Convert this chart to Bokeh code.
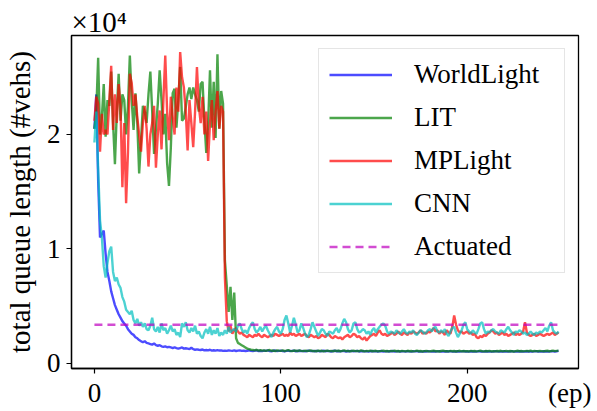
from bokeh.plotting import figure
from bokeh.models import Range1d, FixedTicker, Legend, LegendItem, LinearAxis, Title
from bokeh.embed import file_html
from bokeh.resources import INLINE

episodes = list(range(250))

worldlight = [
    20500, 23500, 16000, 11000, 11300, 11600, 9600, 8000, 7200, 6300,
    5700, 5100, 4700, 4300, 4000, 3700, 3500, 3300, 3000, 2800,
    2600, 2500, 2300, 2200, 2050, 1950, 1850, 1950, 1800, 1750,
    1700, 1650, 1750, 1600, 1550, 1600, 1500, 1450, 1500, 1420,
    1450, 1400, 1350, 1420, 1350, 1300, 1350, 1400, 1300, 1330,
    1300, 1250, 1380, 1250, 1200, 1230, 1200, 1180, 1220, 1150,
    1180, 1150, 1200, 1130, 1160, 1120, 1170, 1130, 1150, 1100,
    1130, 1100, 1150, 1120, 1100, 1140, 1090, 1120, 1150, 1100,
    1130, 1090, 1110, 1150, 1100, 1080, 1120, 1140, 1090, 1110,
    1080, 1120, 1100, 1140, 1090, 1070, 1110, 1130, 1080, 1100,
    1120, 1090, 1060, 1100, 1130, 1080, 1100, 1120, 1070, 1090,
    1110, 1080, 1100, 1060, 1090, 1120, 1080, 1100, 1070, 1090,
    1100, 1060, 1090, 1110, 1070, 1100, 1080, 1050, 1090, 1110,
    1070, 1090, 1060, 1100, 1080, 1050, 1090, 1070, 1100, 1060,
    1080, 1100, 1050, 1070, 1090, 1060, 1080, 1040, 1070, 1090,
    1060, 1080, 1050, 1070, 1090, 1040, 1060, 1080, 1050, 1070,
    1090, 1050, 1060, 1080, 1040, 1070, 1060, 1050, 1080, 1060,
    1040, 1070, 1060, 1080, 1050, 1060, 1040, 1070, 1050, 1080,
    1060, 1040, 1070, 1050, 1060, 1080, 1040, 1060, 1050, 1070,
    1050, 1080, 1040, 1060, 1050, 1070, 1040, 1060, 1080, 1050,
    1060, 1040, 1070, 1050, 1060, 1040, 1080, 1050, 1060, 1040,
    1070, 1050, 1060, 1040, 1050, 1070, 1060, 1040, 1060, 1050,
    1070, 1040, 1060, 1050, 1080, 1040, 1060, 1050, 1070, 1050,
    1060, 1040, 1070, 1050, 1060, 1040, 1060, 1080, 1050, 1060,
    1040, 1070, 1050, 1060, 1040, 1080, 1060, 1050, 1070, 1100,
]

lit = [
    20500, 22000, 26700, 20000, 21500, 24400, 19800, 23000, 22500, 25500,
    21000, 17400, 22000, 25300, 21200, 23500, 23000, 20000, 22500, 26900,
    23000, 20400, 23600, 21000, 16600, 19500, 22500, 22000, 21000, 23500,
    25500, 22000, 18300, 20500, 22700, 25600, 23000, 20000, 21800, 17500,
    15500, 18900, 23600, 24000, 20600, 23000, 25900, 21200, 21400, 22400,
    23500, 24100, 23100, 24100, 23500, 23000, 22000, 24400, 24600, 21200,
    18400, 20900, 25600, 20600, 24600, 19700, 27000, 20500, 23800, 22700,
    9000, 6800, 4500, 6700, 3800, 6200, 2200, 1800, 1700, 1600,
    1500, 1400, 1300, 1250, 1200, 1180, 1150, 1200, 1130, 1160,
    1120, 1150, 1100, 1140, 1180, 1110, 1130, 1090, 1150, 1120,
    1100, 1140, 1090, 1120, 1170, 1100, 1080, 1130, 1110, 1090,
    1150, 1100, 1080, 1120, 1090, 1110, 1140, 1080, 1100, 1070,
    1120, 1090, 1110, 1060, 1100, 1130, 1080, 1100, 1070, 1120,
    1090, 1110, 1070, 1100, 1140, 1080, 1100, 1060, 1090, 1120,
    1080, 1100, 1070, 1150, 1090, 1060, 1100, 1080, 1120, 1070,
    1090, 1110, 1060, 1080, 1100, 1130, 1070, 1090, 1060, 1100,
    1080, 1120, 1070, 1090, 1050, 1100, 1080, 1060, 1110, 1070,
    1090, 1060, 1080, 1120, 1070, 1090, 1050, 1080, 1100, 1070,
    1060, 1090, 1110, 1070, 1080, 1050, 1090, 1130, 1070, 1080,
    1060, 1100, 1070, 1090, 1050, 1080, 1110, 1060, 1090, 1070,
    1080, 1050, 1100, 1070, 1090, 1060, 1080, 1120, 1070, 1060,
    1090, 1070, 1100, 1050, 1080, 1060, 1090, 1070, 1110, 1060,
    1080, 1100, 1060, 1090, 1070, 1050, 1080, 1110, 1070, 1090,
    1060, 1080, 1100, 1070, 1120, 1060, 1090, 1080, 1070, 1100,
    1080, 1060, 1090, 1110, 1070, 1090, 1130, 1080, 1100, 1120,
]

mplight = [
    21200, 23300, 22700, 18500, 21800, 20000, 20400, 20000, 23000, 26000,
    20400, 23500, 21000, 24400, 22500, 15400, 21000, 14000, 18500, 25300,
    24500, 22500, 23500, 21500, 20000, 18500, 21000, 22500, 20500, 17200,
    20000, 21000, 22500, 17100, 20000, 22100, 18700, 23000, 26900, 22000,
    19500, 23300, 21500, 20000, 24100, 22000, 27200, 25000, 24100, 22000,
    18600, 23000, 21000, 18900, 22000, 25900, 22500, 21000, 23300, 20000,
    22000, 17700, 21000, 23000, 19500, 22000, 23800, 20500, 22500, 22000,
    7500, 3700, 2800, 3300, 2600, 2900, 3100, 2800, 2600, 2700,
    2500, 2400, 2300, 2500, 2400, 2300, 2500, 2400, 2600, 2400,
    2300, 2500, 2400, 2300, 2400, 2500, 2400, 2600, 2500, 2400,
    2500, 2600, 2400, 2500, 2400, 2700, 2500, 2600, 2400, 2500,
    2600, 2400, 2500, 2600, 2400, 2300, 2500, 2400, 2300, 2400,
    2200, 2300, 2500, 2400, 2300, 2600, 2500, 2300, 2200, 2400,
    2300, 2200, 2300, 2100, 2300, 2400, 2500, 2300, 2400, 2600,
    2500, 2300, 2400, 2200, 2100, 2300, 2000, 2200, 2400, 2500,
    2600, 2400, 2700, 2900, 2600, 2500, 2600, 2400, 2500, 2600,
    2700, 2500, 2600, 2800, 2600, 2500, 2700, 2600, 2500, 2700,
    2600, 2800, 2700, 2600, 2700, 2900, 2600, 2700, 2600, 2800,
    2700, 2900, 3100, 2800, 2900, 2600, 2800, 2700, 2500, 2900,
    2700, 2600, 3200, 4200, 3400, 2900, 2700, 2800, 2600, 2700,
    2800, 2600, 2700, 2500, 2600, 2300, 2200, 2400, 2300, 2500,
    2400, 2600, 2700, 2900, 2800, 2600, 2700, 2500, 2600, 2700,
    2500, 2600, 2400, 2500, 2600, 2700, 2500, 2600, 2500, 2600,
    2800, 3600, 2700, 2500, 2400, 2500, 2600, 2400, 2500, 2600,
    2500, 2400, 2500, 2600, 2500, 2600, 2700, 2500, 2600, 2700,
]

cnn = [
    19300, 22000, 17000, 12500, 11000, 8500, 7500, 8800, 9800, 10200,
    8000, 7200, 7500, 6900, 6600, 5800, 5400, 4700, 4500, 4300,
    4600, 3800, 3500, 3900, 3300, 3600, 3200, 3500, 3000, 2900,
    3300, 4000, 3000, 2800, 3200, 2700, 3500, 2900, 3100, 2600,
    2900, 3300, 2800, 3000, 2500, 2700, 2300, 3500, 3200, 3600,
    2900, 2700, 3100, 2800, 3300, 2600, 2800, 2400, 2200, 2700,
    3000, 2600, 3200, 2500, 2900, 2600, 3100, 2400, 2700, 2500,
    2900, 2600, 3200, 2700, 2900, 3000, 2800, 3300, 3500, 3000,
    2700, 2900, 2600, 3100, 3400, 3600, 3000, 2700, 2900, 3200,
    2800, 3100, 3300, 2900, 2600, 2300, 2700, 3000, 3200, 2800,
    2600, 3000, 3800, 4200, 3500, 2700, 3300, 4000, 3400, 2700,
    2900, 3500, 3100, 2600, 2300, 2500, 3000, 3600, 3200, 2800,
    2400, 2700, 3000, 2900, 2600, 2400, 2800, 2700, 2600, 2900,
    3100, 2700, 3000, 3500, 3900, 3600, 3000, 2700, 2900, 3500,
    3600, 3000, 2700, 2800, 3000, 2900, 2600, 2800, 2500, 2900,
    3100, 2700, 3000, 3200, 3400, 3500, 3300, 2800, 2600, 2800,
    2700, 2600, 2900, 2700, 2600, 2800, 3000, 2700, 2600, 2800,
    2700, 2900, 2600, 2500, 2700, 2900, 2800, 2600, 2700, 2900,
    3000, 2800, 3100, 3200, 2800, 2700, 2900, 2700, 3000, 2600,
    2400, 2800, 3100, 3200, 2700, 2300, 2600, 2900, 3400, 3600,
    3000, 2800, 2600, 2900, 2700, 2600, 3000, 3500, 3600, 3000,
    2600, 2800, 2700, 2900, 3000, 2800, 2700, 2600, 2900, 2800,
    2700, 3000, 3200, 2900, 2700, 2500, 2800, 2700, 2900, 2800,
    2600, 2700, 2500, 2600, 2800, 2600, 2500, 2700, 2600, 2800,
    2700, 2900, 3100, 2800, 3300, 3600, 2900, 2700, 2600, 2800,
]

actuated_eps = [0, 249]
actuated = [3380, 3380]

series_names = ["WorldLight", "LIT", "MPLight", "CNN", "Actuated"]
x_ticks = [0, 100, 200]
x_unit_pos = 255
x_unit_label = "(ep)"
y_ticks = [0, 10000, 20000]
y_tick_labels = {0: "0", 10000: "1", 20000: "2"}
y_multiplier = "×10⁴"

FONT = "Liberation Serif"
FS = "27px"

p = figure(width=597, height=411, output_backend="svg", toolbar_location=None,
           x_range=Range1d(-12.3, 259.7), y_range=Range1d(-437, 28646),
           x_axis_location=None,
           min_border_left=68, min_border_right=19, min_border_top=35,
           min_border_bottom=43)
p.title = Title(text=y_multiplier, align="left", offset=0, standoff=-5,
                text_font=FONT, text_font_size="29px",
                text_font_style="normal", text_color="black")
p.background_fill_color = "white"
p.border_fill_color = "white"
p.outline_line_color = "black"
p.outline_line_width = 1.3
p.xgrid.visible = False
p.ygrid.visible = False

# x axis: labels at the ticks plus the unit; marks drawn as minor ticks
ax = LinearAxis(ticker=FixedTicker(ticks=x_ticks + [x_unit_pos],
                                   minor_ticks=x_ticks))
ax.axis_line_color = "black"
ax.axis_line_width = 1.3
ax.major_tick_line_color = None
ax.major_tick_out = 5
ax.major_tick_in = 0
ax.minor_tick_line_color = "black"
ax.minor_tick_line_width = 1.2
ax.minor_tick_out = 5
ax.minor_tick_in = 0
ax.major_label_overrides = {x_unit_pos: x_unit_label}
ax.major_label_text_font = FONT
ax.major_label_text_font_size = FS
ax.major_label_text_color = "black"
ax.major_label_standoff = 4
p.add_layout(ax, "below")

ay = p.yaxis[0]
ay.axis_line_color = "black"
ay.axis_line_width = 1.3
ay.major_tick_line_color = "black"
ay.major_tick_line_width = 1.2
ay.major_tick_out = 5
ay.major_tick_in = 0
ay.minor_tick_line_color = None
ay.major_label_text_font = FONT
ay.major_label_text_font_size = FS
ay.major_label_text_color = "black"
ay.major_label_standoff = 6
ay.ticker = FixedTicker(ticks=y_ticks)
ay.major_label_overrides = y_tick_labels
ay.axis_label = "total queue length (#vehs)"
ay.axis_label_text_font = FONT
ay.axis_label_text_font_size = "29px"
ay.axis_label_text_font_style = "normal"
ay.axis_label_text_color = "black"
ay.axis_label_standoff = 8

r1 = p.line(episodes, worldlight, line_color="blue", line_alpha=0.7, line_width=2.4)
r2 = p.line(episodes, lit, line_color="green", line_alpha=0.7, line_width=2.4)
r3 = p.line(episodes, mplight, line_color="red", line_alpha=0.7, line_width=2.4)
r4 = p.line(episodes, cnn, line_color="#00bfbf", line_alpha=0.7, line_width=2.4)
r5 = p.line(actuated_eps, actuated, line_color="#bf00bf", line_alpha=0.7,
            line_width=2.4, line_dash="8 5")

legend = Legend(items=[LegendItem(label=n, renderers=[r])
                       for n, r in zip(series_names, [r1, r2, r3, r4, r5])],
                location=(247, 95))
legend.label_text_font = FONT
legend.label_text_font_size = FS
legend.label_text_color = "black"
legend.glyph_width = 63
legend.glyph_height = 31
legend.label_height = 31
legend.label_width = 140
legend.label_standoff = 22
legend.spacing = 12
legend.padding = 10
legend.margin = 0
legend.border_line_color = "#cccccc"
legend.border_line_width = 1
legend.background_fill_color = "white"
legend.background_fill_alpha = 0.8
p.add_layout(legend)

open("out.html", "w").write(file_html(p, INLINE))
